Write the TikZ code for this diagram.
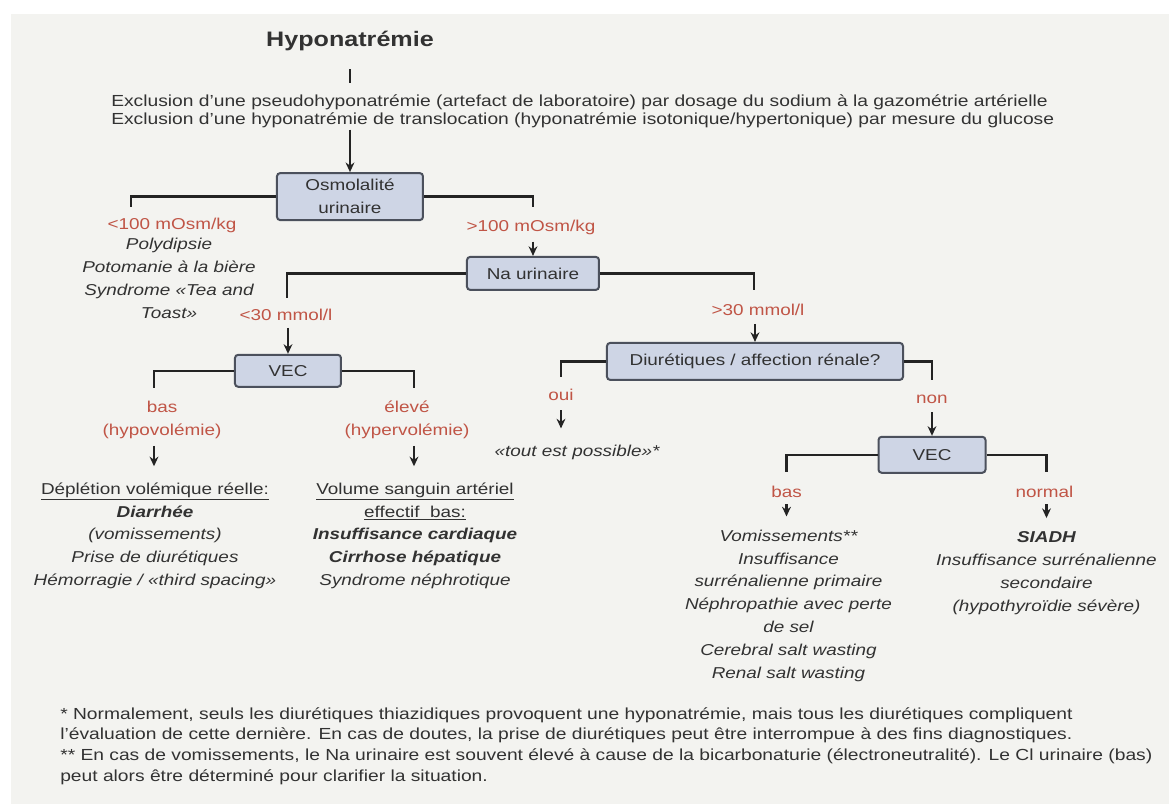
\documentclass[tikz,border=0pt]{standalone}
\usepackage{fontspec}
\setmainfont{Liberation Sans}[FakeStretch=1.2]
\usepackage{tikz}
\usetikzlibrary{arrows.meta, positioning, calc}
\definecolor{panelBg}{RGB}{243, 243, 240}
\definecolor{textFg}{RGB}{50, 50, 50}
\definecolor{lineFg}{RGB}{35, 35, 35}
\definecolor{redFg}{RGB}{192, 85, 70}
\definecolor{boxFg}{RGB}{75, 80, 92}
\definecolor{boxBg}{RGB}{206, 213, 229}
\newcommand{\myTitleFont}{\fontsize{14.9}{18}\selectfont\bfseries}
\newcommand{\myBodyFont}{\fontsize{11.2}{16.3}\selectfont}
\newcommand{\myExclFont}{\fontsize{11.4}{12.6}\selectfont}
\newcommand{\myFootFont}{\fontsize{11.4}{14.7}\selectfont}
\tikzstyle{flowarrow} = [line width=0.65mm, draw=lineFg, -{Stealth[length=2.4mm, width=2.2mm]}]
\tikzstyle{line} = [line width=0.65mm, draw=lineFg]
\tikzstyle{basic} = [rectangle, rounded corners=0.8mm, line width=0.5mm, draw=boxFg, fill=boxBg, text=textFg, align=center, inner sep=0pt, font=\myBodyFont]
\tikzstyle{infotext} = [align=center, inner sep=0pt, text=textFg, font=\myBodyFont\itshape]
\tikzstyle{redlabel} = [align=center, inner sep=0pt, text=redFg, font=\myBodyFont]

\begin{document}
\begin{tikzpicture}[node distance=0mm]

\path [use as bounding box, fill=white] (-87.5mm, 10.25mm) rectangle (204.75mm, -190.5mm);
\fill [panelBg] (-84.75mm, 6.75mm) rectangle (207mm, -193mm);

\node (title) [inner sep=0pt, text=textFg, font=\myTitleFont] {Hyponatrémie};
\node (excl) [anchor=west, align=left, inner sep=0pt, text=textFg, font=\myExclFont, xshift=-59.75mm, yshift=-17.5mm] at(title.center) {Exclusion d'une pseudohyponatrémie (artefact de laboratoire) par dosage du sodium à la gazométrie artérielle\\Exclusion d'une hyponatrémie de translocation (hyponatrémie isotonique/hypertonique) par mesure du glucose};
\draw [line] ($(title.south) + (0, -4.5mm)$) -- ($(title.south) + (0, -8mm)$);

\node (osm) [basic, minimum width=36.5mm, minimum height=11.75mm, yshift=-38.9mm] at(title.center) {Osmolalité\\urinaire};
\draw [flowarrow] ($(excl.south -| osm.north) + (0, -0.5mm)$) -- (osm.north);

\coordinate (osmL) at ($(osm.west) + (-36.25mm, -2.6mm)$);
\coordinate (osmR) at ($(osm.east) + (27.25mm, -2.6mm)$);
\draw [line] (osm.west) -| (osmL);
\draw [line] (osm.east) -| (osmR);

\node (lowOsm) [redlabel, xshift=10.25mm, yshift=-4.5mm] at(osmL) {<100 mOsm/kg};
\node (lowOsmList) [infotext, xshift=9.5mm, yshift=-17.9mm] at(osmL) {Polydipsie\\Potomanie à la bière\\Syndrome «Tea and\\Toast»};
\node (highOsm) [redlabel, xshift=-0.5mm, yshift=-5mm] at(osmR) {>100 mOsm/kg};
\node (na) [basic, minimum width=33mm, minimum height=8.25mm, yshift=-16.6mm] at(osmR) {Na urinaire};
\draw [flowarrow] ($(highOsm.south -| na.north) + (0, -1.75mm)$) -- (na.north);

\coordinate (naL) at ($(na.west) + (-44.75mm, -6.1mm)$);
\coordinate (naR) at ($(na.east) + (38.5mm, -4.1mm)$);
\draw [line] (na.west) -| (naL);
\draw [line] (na.east) -| (naR);

\node (lowNa) [redlabel, xshift=-0.25mm, yshift=-4.25mm] at(naL) {<30 mmol/l};
\node (highNa) [redlabel, xshift=1mm, yshift=-5mm] at(naR) {>30 mmol/l};

\node (vecA) [basic, minimum width=26.5mm, minimum height=8mm, xshift=0.25mm, yshift=-18.25mm] at(naL) {VEC};
\draw [flowarrow] ($(lowNa.south -| vecA.north) + (0, -1.75mm)$) -- (vecA.north);

\coordinate (vecAL) at ($(vecA.west) + (-20mm, -4.25mm)$);
\coordinate (vecAR) at ($(vecA.east) + (18mm, -4.25mm)$);
\draw [line] (vecA.west) -| (vecAL);
\draw [line] (vecA.east) -| (vecAR);

\node (hypo) [redlabel, xshift=2mm, yshift=-8mm] at(vecAL) {bas\\(hypovolémie)};
\node (hyper) [redlabel, xshift=-1.75mm, yshift=-8mm] at(vecAR) {élevé\\(hypervolémie)};
\node (hypoList) [infotext, xshift=0.25mm, yshift=-37mm] at(vecAL) {\textup{\underline{Déplétion volémique réelle:}}\\\textbf{Diarrhée}\\(vomissements)\\Prise de diurétiques\\Hémorragie / «third spacing»};
\node (hyperList) [infotext, xshift=0.25mm, yshift=-37mm] at(vecAR) {\textup{\underline{Volume sanguin artériel}}\\\textup{\underline{effectif\ \ bas:}}\\\textbf{Insuffisance cardiaque}\\\textbf{Cirrhose hépatique}\\Syndrome néphrotique};
\draw [flowarrow] ($(hypo.south -| vecAL) + (0, -1.75mm)$) -- ($(hypoList.north -| vecAL) + (0, 4mm)$);
\draw [flowarrow] ($(hyper.south -| vecAR) + (0, -1.75mm)$) -- ($(hyperList.north -| vecAR) + (0, 4mm)$);

\node (diu) [basic, minimum width=74mm, minimum height=9.25mm, xshift=0.25mm, yshift=-17.9mm] at(naR) {Diurétiques / affection rénale?};
\draw [flowarrow] ($(highNa.south -| diu.north) + (0, -2mm)$) -- (diu.north);

\coordinate (diuL) at ($(diu.west) + (-11.25mm, -3.9mm)$);
\coordinate (diuR) at ($(diu.east) + (7mm, -4.6mm)$);
\draw [line] (diu.west) -| (diuL);
\draw [line] (diu.east) -| (diuR);

\node (oui) [redlabel, yshift=-4.5mm] at(diuL) {oui};
\node (possible) [infotext, xshift=4mm, yshift=-18.75mm] at(diuL) {«tout est possible»*};
\draw [flowarrow] ($(oui.south -| diuL) + (0, -2.25mm)$) -- ($(possible.north -| diuL) + (0, 4mm)$);

\node (non) [redlabel, yshift=-5mm] at(diuR) {non};
\node (vecB) [basic, minimum width=26.75mm, minimum height=9mm, yshift=-18.75mm] at(diuR) {VEC};
\draw [flowarrow] ($(non.south -| vecB.north) + (0, -1.9mm)$) -- (vecB.north);

\coordinate (vecBL) at ($(vecB.west) + (-22.75mm, -4.25mm)$);
\coordinate (vecBR) at ($(vecB.east) + (15mm, -4.25mm)$);
\draw [line] (vecB.west) -| (vecBL);
\draw [line] (vecB.east) -| (vecBR);

\node (basB) [redlabel, yshift=-5mm] at(vecBL) {bas};
\node (normB) [redlabel, xshift=-0.5mm, yshift=-5mm] at(vecBR) {normal};
\node (basList) [infotext, xshift=0.5mm, yshift=-33.5mm] at(vecBL) {Vomissements**\\Insuffisance\\surrénalienne primaire\\Néphropathie avec perte\\de sel\\Cerebral salt wasting\\Renal salt wasting};
\node (normList) [infotext, yshift=-25.25mm] at(vecBR) {\textbf{SIADH}\\Insuffisance surrénalienne\\secondaire\\(hypothyroïdie sévère)};
\draw [flowarrow] ($(basB.south -| vecBL) + (0, -1.6mm)$) -- ($(basList.north -| vecBL) + (0, 3.25mm)$);
\draw [flowarrow] ($(normB.south -| vecBR) + (0, -1.6mm)$) -- ($(normList.north -| vecBR) + (0, 3.25mm)$);

\node (foot) [anchor=west, align=left, inner sep=0pt, text=textFg, font=\myFootFont, xshift=-72.5mm, yshift=-176.25mm] at(title.center) {* Normalement, seuls les diurétiques thiazidiques provoquent une hyponatrémie, mais tous les diurétiques compliquent\\l'évaluation de cette dernière. En cas de doutes, la prise de diurétiques peut être interrompue à des fins diagnostiques.\\** En cas de vomissements, le Na urinaire est souvent élevé à cause de la bicarbonaturie (électroneutralité). Le Cl urinaire (bas)\\peut alors être déterminé pour clarifier la situation.};

\end{tikzpicture}
\end{document}
